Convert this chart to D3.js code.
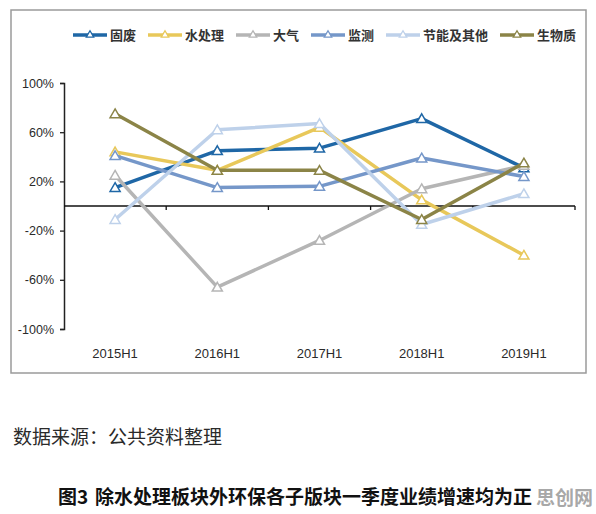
<!DOCTYPE html>
<html>
<head>
<meta charset="utf-8">
<script src="https://cdn.jsdelivr.net/npm/d3@7"></script>
<style>
  body { margin: 0; background: #fff; }
  svg { display: block; }
</style>
</head>
<body>
<div id="chart"></div>
<script>
// categories and series (growth, %)
const periods = ["2015H1", "2016H1", "2017H1", "2018H1", "2019H1"];
const seriesNames = ["固废", "水处理", "大气", "监测", "节能及其他", "生物质"];
const guFei = [15, 45, 47, 71, 31];
const shuiChuLi = [44, 29, 64, 5, -40];
const daQi = [25, -66, -28, 14, 33];
const jianCe = [41, 15, 16, 39, 24];
const jieNeng = [-11, 62, 67, -15, 10];
const shengWuZhi = [75, 29, 29, -11, 35];
const yTicks = [-100, -60, -20, 20, 60, 100];

const colors = ["#1f67a6", "#e8c85a", "#b5b5b5", "#7597c9", "#bed1ea", "#8b8447"];
const allValues = [guFei, shuiChuLi, daQi, jianCe, jieNeng, shengWuZhi];

const W = 596, H = 514;
const svg = d3.select("#chart").append("svg")
    .attr("width", W)
    .attr("height", H);

// outer frame
svg.append("rect")
    .attr("x", 11).attr("y", 10)
    .attr("width", 575).attr("height", 363)
    .attr("fill", "none")
    .attr("stroke", "#9a9a9a")
    .attr("stroke-width", 1.5);

const x = d3.scaleBand().domain(periods).range([64, 575]);
const y = d3.scaleLinear().domain([-100, 100]).range([329, 83]);

// y axis
const yAxis = svg.append("g")
    .attr("transform", "translate(64,0)")
    .call(d3.axisLeft(y).tickValues(yTicks).tickSize(4).tickFormat(d => d + "%"));
yAxis.select(".domain").attr("stroke", "#222").attr("stroke-width", 1.5);
yAxis.selectAll(".tick line").attr("stroke", "#222").attr("stroke-width", 1.3);
yAxis.selectAll(".tick text")
    .attr("x", -10)
    .attr("fill", "#2a2a2a")
    .style("font-family", "'Liberation Sans', Arial, sans-serif")
    .style("font-size", "12.5px");

// zero line with category ticks
svg.append("line")
    .attr("x1", 64).attr("x2", 575)
    .attr("y1", y(0)).attr("y2", y(0))
    .attr("stroke", "#111").attr("stroke-width", 1.6);
svg.selectAll(".cat-tick")
    .data(periods)
    .enter().append("line")
    .attr("x1", d => x(d) + x.bandwidth()).attr("x2", d => x(d) + x.bandwidth())
    .attr("y1", y(0)).attr("y2", y(0) + 4)
    .attr("stroke", "#111").attr("stroke-width", 1.3);

// x labels
svg.selectAll(".x-label")
    .data(periods)
    .enter().append("text")
    .attr("x", d => x(d) + x.bandwidth() / 2)
    .attr("y", 358)
    .attr("text-anchor", "middle")
    .attr("fill", "#2a2a2a")
    .style("font-family", "'Liberation Sans', Arial, sans-serif")
    .style("font-size", "13px")
    .text(d => d);

const tri = d3.symbol().type(d3.symbolTriangle).size(44);
const triSmall = d3.symbol().type(d3.symbolTriangle).size(24);

const line = d3.line()
    .x((d, i) => x(periods[i]) + x.bandwidth() / 2)
    .y(d => y(d));

allValues.forEach(function(vals, k) {
    const g = svg.append("g");
    g.append("path")
        .attr("d", line(vals))
        .attr("fill", "none")
        .attr("stroke", colors[k])
        .attr("stroke-width", 3.5)
        .attr("stroke-linejoin", "round");
    g.selectAll("path.mk")
        .data(vals)
        .enter().append("path")
        .attr("class", "mk")
        .attr("d", tri)
        .attr("transform", (d, i) => `translate(${x(periods[i]) + x.bandwidth() / 2},${y(d) + 1})`)
        .attr("fill", "#fff")
        .attr("stroke", colors[k])
        .attr("stroke-width", 1.5);
});

// legend
const legendX = [73, 148, 236, 311, 386, 500];
const legend = svg.append("g");
seriesNames.forEach(function(name, k) {
    const lx = legendX[k];
    legend.append("line")
        .attr("x1", lx).attr("x2", lx + 34)
        .attr("y1", 35).attr("y2", 35)
        .attr("stroke", colors[k]).attr("stroke-width", 3.5);
    legend.append("path")
        .attr("d", triSmall)
        .attr("transform", `translate(${lx + 17},35)`)
        .attr("fill", "#fff")
        .attr("stroke", colors[k])
        .attr("stroke-width", 1.3);
    legend.append("text")
        .attr("x", lx + 37)
        .attr("y", 40)
        .attr("fill", "#333")
        .style("font-family", "'Noto Sans CJK SC', sans-serif")
        .style("font-weight", "bold")
        .style("font-size", "13px")
        .text(name);
});

// source note and caption
svg.append("text")
    .attr("x", 13).attr("y", 444)
    .attr("fill", "#2a2a2a")
    .style("font-family", "'Noto Sans CJK SC', sans-serif")
    .style("font-size", "19px")
    .text("数据来源：公共资料整理");

const caption = svg.append("text")
    .attr("y", 504)
    .attr("fill", "#111")
    .style("font-family", "'Noto Sans CJK SC', sans-serif")
    .style("font-weight", "bold")
    .style("font-size", "19px");
caption.append("tspan").attr("x", 58).text("图3");
caption.append("tspan").attr("x", 95).text("除水处理板块外环保各子版块一季度业绩增速均为正");

// watermark
svg.append("text")
    .attr("x", 536).attr("y", 505)
    .attr("fill", "#a0a0a0")
    .attr("fill-opacity", 0.92)
    .style("font-family", "'Noto Sans CJK SC', sans-serif")
    .style("font-weight", "bold")
    .style("font-size", "19px")
    .text("思创网");
</script>
</body>
</html>
